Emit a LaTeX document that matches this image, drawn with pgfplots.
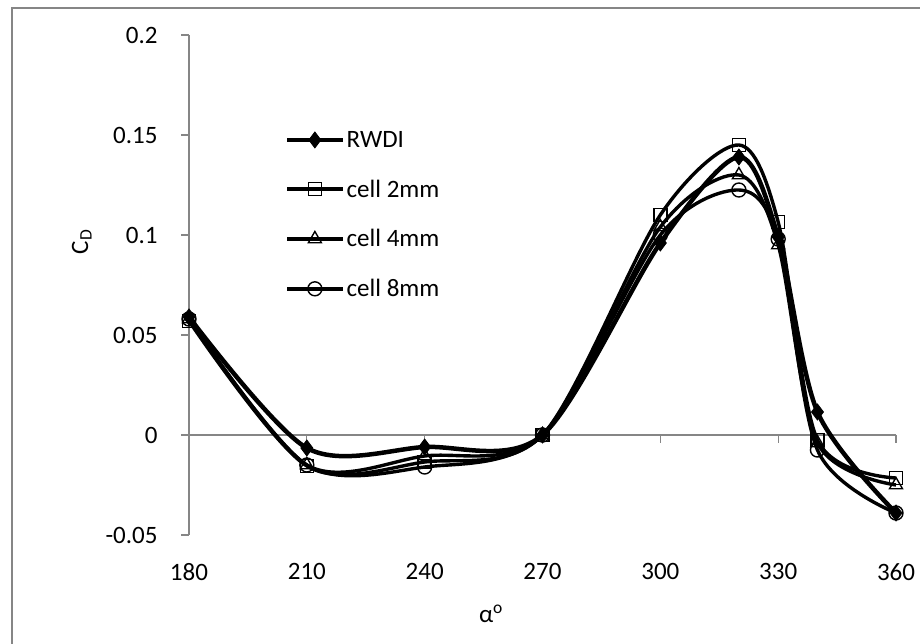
\documentclass[border=0pt]{standalone}
\usepackage{fontspec}
\setmainfont{Carlito}
\usepackage{pgfplots}
\pgfplotsset{compat=1.18}
\definecolor{axisgray}{HTML}{868686}
\begin{document}
\begin{tikzpicture}
\useasboundingbox (0,0) rectangle (920bp,644bp);
\draw[axisgray, line width=1.3bp] (12bp,-10bp) -- (12bp,636bp) -- (930bp,636bp);
\begin{axis}[
  at={(189bp,109bp)}, anchor=south west,
  scale only axis, width=707bp, height=500bp,
  xmin=180, xmax=360, ymin=-0.05, ymax=0.2,
  axis x line*=bottom, axis y line*=left,
  x axis line style={draw=none},
  y axis line style={axisgray, line width=1.3bp},
  xtick={180,210,240,270,300,330,360},
  xticklabels={180,210,240,270,300,330,360},
  ytick={-0.05,0,0.05,0.1,0.15,0.2},
  yticklabels={-0.05,0,0.05,0.1,0.15,0.2},
  x tick style={draw=none},
  y tick style={axisgray, line width=1.3bp},
  tick align=outside, major tick length=8bp,
  tick label style={font=\fontsize{25bp}{30bp}\selectfont},
  xticklabel style={yshift=-17bp},
  yticklabel style={xshift=-20bp},
  clip=false,
  legend style={draw=none, fill=none, at={(axis description cs:0.1357,0.812)}, anchor=north west,
    font=\fontsize{25bp}{30bp}\selectfont, row sep=27bp, inner sep=0pt},
  legend cell align=left,
  legend image code/.code={\draw[mark repeat=2, mark phase=2, #1] plot coordinates {(0bp,0bp) (27.5bp,0bp) (55bp,0bp)};},
]
\draw[axisgray, line width=1.3bp] (axis cs:180,0) -- (axis cs:360,0);
\pgfplotsinvokeforeach{210,240,270,300,330,360}{\draw[axisgray, line width=1.3bp] (axis cs:#1,0) -- ([yshift=-8bp]axis cs:#1,0);}
\addplot[black, line width=4.5bp, smooth, mark=diamond*, mark size=8bp, mark options={solid, line width=0.8bp}] coordinates {
(180,0.059) (210,-0.0065) (240,-0.006) (270,0) (300,0.096) (320,0.139) (330,0.099) (340,0.0115) (360,-0.039)};
\addlegendentry{RWDI}
\addplot[black, line width=3.4bp, smooth, mark=square, mark size=6.5bp, mark options={solid, line width=1.4bp}] coordinates {
(180,0.057) (210,-0.0155) (240,-0.0135) (270,0) (300,0.110) (320,0.145) (330,0.1065) (340,-0.0025) (360,-0.0215)};
\addlegendentry{cell 2mm}
\addplot[black, line width=3.4bp, smooth, mark=triangle, mark size=7.5bp, mark options={solid, line width=1.4bp}] coordinates {
(180,0.058) (210,-0.015) (240,-0.0105) (270,0) (300,0.104) (320,0.130) (330,0.095) (340,-0.004) (360,-0.025)};
\addlegendentry{cell 4mm}
\addplot[black, line width=3.4bp, smooth, mark=o, mark size=7bp, mark options={solid, line width=1.4bp}] coordinates {
(180,0.058) (210,-0.015) (240,-0.016) (270,0) (300,0.100) (320,0.1225) (330,0.098) (340,-0.0075) (360,-0.039)};
\addlegendentry{cell 8mm}
\end{axis}
\node[rotate=90, anchor=base, font=\fontsize{25bp}{30bp}\selectfont] at (88bp,402bp) {C\textsubscript{D}};
\node[anchor=base, font=\fontsize{25bp}{30bp}\selectfont] at (491bp,22bp) {α\textsuperscript{o}};
\end{tikzpicture}
\end{document}
